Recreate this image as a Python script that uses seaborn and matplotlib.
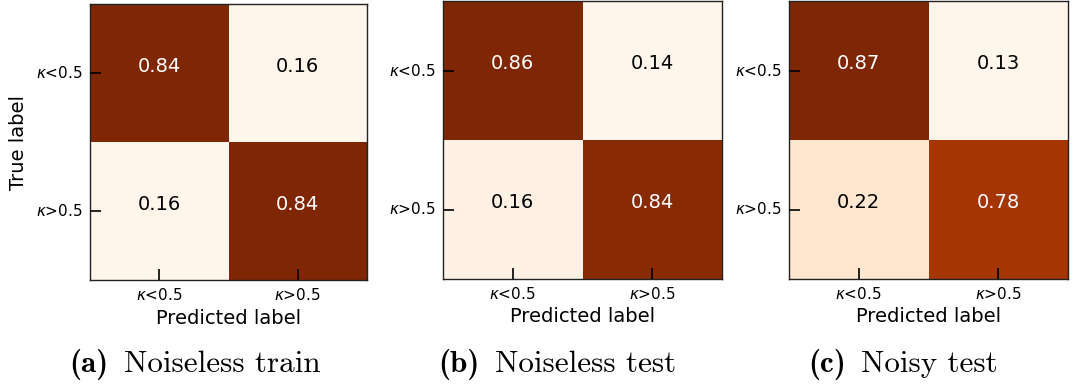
import numpy as np
import matplotlib
matplotlib.use("Agg")
import matplotlib.pyplot as plt
import seaborn as sns

# confusion matrices (rows: true, cols: predicted)
cm_noiseless_train = np.array([[0.84, 0.16],
                               [0.16, 0.84]])
cm_noiseless_test = np.array([[0.86, 0.14],
                              [0.16, 0.84]])
cm_noisy_test = np.array([[0.87, 0.13],
                          [0.22, 0.78]])

class_labels = [r"$\kappa$<0.5", r"$\kappa$>0.5"]
caption_tags = ["(a)", "(b)", "(c)"]
caption_texts = ["Noiseless train", "Noiseless test", "Noisy test"]

sns.set_style("white")
plt.rcParams['font.family'] = ['DejaVu Sans']
for k in ["text.color", "axes.labelcolor", "xtick.color", "ytick.color"]:
    plt.rcParams[k] = "black"

W, H = 1074, 385
fig = plt.figure(figsize=(W / 100, H / 100), dpi=100)

# axes boxes in pixels: left, right, top, bottom
boxes = [(90, 367, 4, 280), (443, 722, 1, 279), (789, 1068, 1, 279)]
# caption: right edge of tag, left edge of text (pixels)
caption_pos = [(108, 124), (480, 495), (846, 861)]

matrices = [cm_noiseless_train, cm_noiseless_test, cm_noisy_test]

for i, (mat, (l, r, t, b)) in enumerate(zip(matrices, boxes)):
    ax = fig.add_axes([l / W, (H - b) / H, (r - l) / W, (b - t) / H])
    sns.heatmap(mat, annot=True, fmt=".2f", cmap="Oranges", cbar=False,
                ax=ax, annot_kws={"size": 14},
                xticklabels=class_labels, yticklabels=class_labels)
    for txt in ax.texts:
        if txt.get_color() != "w":
            txt.set_color("black")
        x, y = txt.get_position()
        txt.set_position((x, y - 0.05))  # numbers sit a bit above centre
    ax.set_axisbelow(False)
    for sp in ax.spines.values():
        sp.set_visible(True)
        sp.set_color("#222222")
        sp.set_linewidth(1.0)
    ax.tick_params(bottom=True, left=True, direction="in", length=8,
                   width=1.2, labelsize=11, pad=5, colors="black")
    ax.set_yticklabels(class_labels, rotation=0)
    ax.set_xticklabels(class_labels, rotation=0)
    ax.set_xlabel("Predicted label", fontsize=14)
    if i == 0:
        ax.set_ylabel("True label", fontsize=14, labelpad=6)
    tx, cx = caption_pos[i]
    fig.text(tx / W, 13 / H, caption_tags[i], ha="right", va="baseline",
             fontsize=22.4, family="cmb10")
    fig.text(cx / W, 13 / H, caption_texts[i], ha="left", va="baseline",
             fontsize=22.4, family="cmr10")

fig.savefig("out.png", dpi=100)
